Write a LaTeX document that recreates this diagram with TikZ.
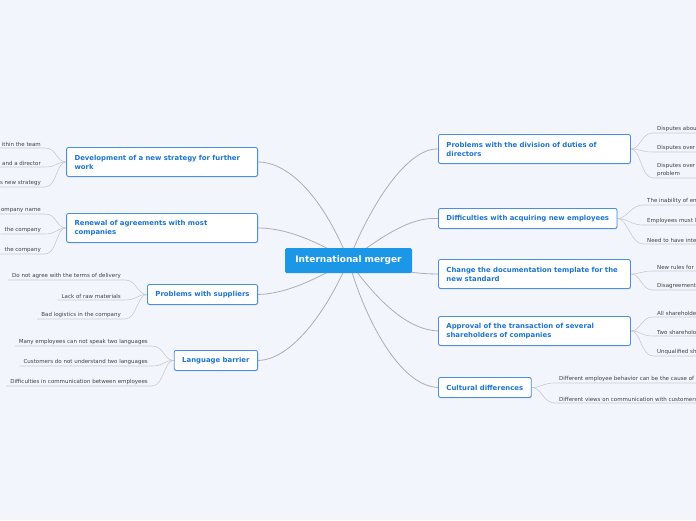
\documentclass[tikz,border=0pt]{standalone}
\usepackage{fontspec}
\setmainfont{DejaVu Sans}
\usetikzlibrary{shadows,backgrounds}

\definecolor{paper}{HTML}{F3F5FD}
\definecolor{rootblue}{HTML}{1C96E6}
\definecolor{topicline}{HTML}{4A90E2}
\definecolor{topictext}{HTML}{1D74D2}
\definecolor{branch}{HTML}{ABADB8}
\definecolor{twiggray}{HTML}{C9CBD4}

\begin{document}
\begin{tikzpicture}[
    x=1pt, y=-1pt,
    root/.style={rectangle, rounded corners=1.5pt, fill=rootblue, text=white,
      font=\fontsize{9}{10}\selectfont\bfseries, minimum width=127pt, minimum height=25pt},
    topic/.style={rectangle, rounded corners=2pt, draw=topicline, line width=0.9pt, fill=white,
      text=topictext, font=\fontsize{6.9}{9}\selectfont\bfseries, align=left,
      inner xsep=8pt, inner ysep=3pt, minimum height=20pt,
      drop shadow={shadow xshift=0.5pt, shadow yshift=-0.9pt, opacity=0.25}},
    sub/.style={font=\fontsize{5.5}{7.5}\selectfont, text=black!75, align=left,
      inner xsep=4pt, inner ysep=1.6pt},
    edge/.style={draw=branch, line width=0.8pt},
    twig/.style={draw=twiggray, line width=0.6pt},
]

\path[use as bounding box, clip] (0,0) rectangle (696,520);

% central topic
\node[root] (merger) at (348.5,260.5) {International merger};

% left main topics
\node[topic, anchor=north east, text width=175pt, minimum height=29pt] (dev) at (258,147)
  {Development of a new strategy for further\\work};
\node[topic, anchor=north east, text width=175pt, minimum height=29pt] (ren) at (258,213)
  {Renewal of agreements with most\\companies};
\node[topic, anchor=north east] (sup) at (258,284) {Problems with suppliers};
\node[topic, anchor=north east] (lang) at (258,350) {Language barrier};

% right main topics
\node[topic, anchor=north west, text width=176pt, minimum height=29pt] (duty) at (438,134)
  {Problems with the division of duties of\\directors};
\node[topic, anchor=north west] (hire) at (438,208) {Difficulties with acquiring new employees};
\node[topic, anchor=north west, text width=176pt, minimum height=29pt] (docs) at (438,259)
  {Change the documentation template for the\\new standard};
\node[topic, anchor=north west, text width=176pt, minimum height=29pt] (deal) at (438,316)
  {Approval of the transaction of several\\shareholders of companies};
\node[topic, anchor=north west] (cult) at (438,377) {Cultural differences};

% left subtopics
\node[sub, anchor=south east] (dev1) at (45,148) {ithin the team};
\node[sub, anchor=south east] (dev2) at (45,167) {and a director};
\node[sub, anchor=south east] (dev3) at (45,187) {s new strategy};

\node[sub, anchor=south east] (ren1) at (45,214) {ompany name};
\node[sub, anchor=south east] (ren2) at (45,234) {the company};
\node[sub, anchor=south east] (ren3) at (45,254) {the company};

\node[sub, anchor=south east] (sup1) at (125,280) {Do not agree with the terms of delivery};
\node[sub, anchor=south east] (sup2) at (125,300) {Lack of raw materials};
\node[sub, anchor=south east] (sup3) at (125,319) {Bad logistics in the company};

\node[sub, anchor=south east] (lang1) at (152,346) {Many employees can not speak two languages};
\node[sub, anchor=south east] (lang2) at (152,366) {Customers do not understand two languages};
\node[sub, anchor=south east] (lang3) at (152,386) {Difficulties in communication between employees};

% right subtopics
\node[sub, anchor=south west] (duty1) at (653,133) {Disputes abou};
\node[sub, anchor=south west] (duty2) at (653,152) {Disputes over};
\node[sub, anchor=south west] (duty3) at (653,178) {Disputes over\\problem};

\node[sub, anchor=south west] (hire1) at (643,205) {The inability of en};
\node[sub, anchor=south west] (hire2) at (643,225) {Employees must l};
\node[sub, anchor=south west] (hire3) at (643,244) {Need to have inte};

\node[sub, anchor=south west] (docs1) at (653,271) {New rules for};
\node[sub, anchor=south west] (docs2) at (653,290) {Disagreement};

\node[sub, anchor=south west] (deal1) at (653,317) {All shareholde};
\node[sub, anchor=south west] (deal2) at (653,336) {Two shareholo};
\node[sub, anchor=south west] (deal3) at (653,356) {Unqualified sh};

\node[sub, anchor=south west] (cult1) at (555,383) {Different employee behavior can be the cause of};
\node[sub, anchor=south west] (cult2) at (555,403) {Different views on communication with customers};

\begin{scope}[on background layer]
  \fill[paper] (0,0) rectangle (696,520);

  % branches from the centre
  \draw[edge] (merger.center) .. controls (320,190) and (285,162) .. (dev.east);
  \draw[edge] (merger.center) .. controls (315,240) and (285,228) .. (ren.east);
  \draw[edge] (merger.center) .. controls (315,280) and (285,294) .. (sup.east);
  \draw[edge] (merger.center) .. controls (325,315) and (290,360) .. (lang.east);
  \draw[edge] (merger.center) .. controls (375,195) and (410,148) .. (duty.west);
  \draw[edge] (merger.center) .. controls (385,235) and (410,217) .. (hire.west);
  \draw[edge] (merger.center) .. controls (400,272) and (420,274) .. (docs.west);
  \draw[edge] (merger.center) .. controls (380,305) and (410,330) .. (deal.west);
  \draw[edge] (merger.center) .. controls (365,320) and (400,386) .. (cult.west);

  % twigs, left
  \foreach \p/\s in {dev/dev1, dev/dev2, dev/dev3, ren/ren1, ren/ren2, ren/ren3,
                     sup/sup1, sup/sup2, sup/sup3, lang/lang1, lang/lang2, lang/lang3}
    \draw[twig] (\s.south west) -- (\s.south east)
      .. controls +(12,0) and +(-10,0) .. (\p.west);

  % twigs, right
  \foreach \p/\s in {duty/duty1, duty/duty2, duty/duty3, hire/hire1, hire/hire2, hire/hire3,
                     docs/docs1, docs/docs2, deal/deal1, deal/deal2, deal/deal3,
                     cult/cult1, cult/cult2}
    \draw[twig] (\s.south east) -- (\s.south west)
      .. controls +(-12,0) and +(10,0) .. (\p.east);
\end{scope}

\end{tikzpicture}
\end{document}
